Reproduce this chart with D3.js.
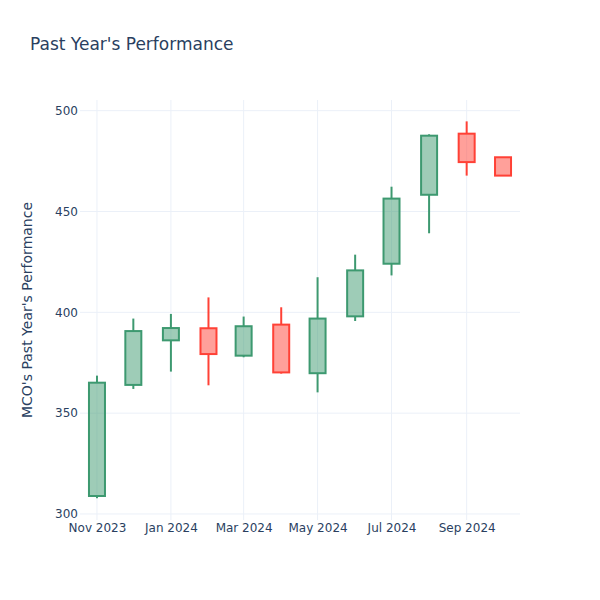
<!DOCTYPE html>
<html>
<head>
<meta charset="utf-8">
<script src="https://cdn.jsdelivr.net/npm/d3@7"></script>
<style>
  body { margin: 0; background: #fff; }
  svg { font-family: "DejaVu Sans", sans-serif; }
</style>
</head>
<body>
<svg id="chart" width="600" height="600"></svg>
<script>
const dates = ["2023-11-01","2023-12-01","2024-01-01","2024-02-01","2024-03-01","2024-04-01","2024-05-01","2024-06-01","2024-07-01","2024-08-01","2024-09-01","2024-10-01"];
const openV  = [308.9, 364.0, 386.1, 392.1, 378.5, 393.9, 369.8, 398.0, 424.1, 458.3, 488.6, 476.9];
const highV  = [368.6, 396.9, 399.2, 407.4, 397.9, 402.5, 417.4, 428.6, 462.3, 488.3, 494.7, 476.9];
const lowV   = [307.8, 362.0, 370.6, 363.8, 377.7, 369.6, 360.3, 395.7, 418.3, 439.2, 467.8, 467.8];
const closeV = [365.1, 390.7, 392.2, 379.3, 393.1, 370.2, 396.9, 420.8, 456.4, 487.6, 474.5, 467.8];
const yTicks = [300, 350, 400, 450, 500];
const xTickDates = ["2023-11-01","2024-01-01","2024-03-01","2024-05-01","2024-07-01","2024-09-01"];

(function () {
const parse = d3.utcParse("%Y-%m-%d");
const data = dates.map((d, i) => ({date: parse(d), o: openV[i], h: highV[i], l: lowV[i], c: closeV[i]}));

const svg = d3.select("#chart");
const pL = 80, pR = 520, pT = 100, pB = 520;
const textColor = "#2a3f5f", gridColor = "#ebf0f8";
const font = "DejaVu Sans, sans-serif";

const x = d3.scaleUtc().domain([parse("2023-10-18"), parse("2024-10-15")]).range([pL, pR]);
const y = d3.scaleLinear().domain([297.0, 505.3]).range([pB, pT]);

// grid
svg.append("g").selectAll("line").data(xTickDates.map(parse)).join("line")
  .attr("x1", d => x(d)).attr("x2", d => x(d)).attr("y1", pT).attr("y2", pB)
  .attr("stroke", gridColor).attr("stroke-width", 1);
svg.append("g").selectAll("line").data(yTicks).join("line")
  .attr("x1", pL).attr("x2", pR).attr("y1", d => y(d)).attr("y2", d => y(d))
  .attr("stroke", gridColor).attr("stroke-width", 1);

// axes
const yAxis = d3.axisLeft(y).tickValues(yTicks).tickSize(0).tickPadding(3);
const gy = svg.append("g").attr("transform", `translate(${pL},0)`).call(yAxis)
  .attr("font-family", font).attr("font-size", 12);
gy.select(".domain").remove();
gy.selectAll("text").attr("fill", textColor).attr("x", -2);

const fmt = d3.utcFormat("%b %Y");
const xAxis = d3.axisBottom(x).tickValues(xTickDates.map(parse)).tickFormat(fmt).tickSize(0).tickPadding(6);
const gx = svg.append("g").attr("transform", `translate(0,${pB})`).call(xAxis)
  .attr("font-family", font).attr("font-size", 12);
gx.select(".domain").remove();
gx.selectAll("text").attr("fill", textColor).attr("dy", "0.71em").attr("y", 3);

// candles
const inc = "#3D9970", dec = "#FF4136";
const bw = 16;
const g = svg.append("g");
data.forEach(d => {
  const up = d.c >= d.o;
  const col = up ? inc : dec;
  const fill = up ? "rgba(61,153,112,0.5)" : "rgba(255,65,54,0.5)";
  const cx = x(d.date);
  const yTop = y(Math.max(d.o, d.c)), yBot = y(Math.min(d.o, d.c));
  g.append("line").attr("x1", cx).attr("x2", cx).attr("y1", y(d.h)).attr("y2", yTop)
    .attr("stroke", col).attr("stroke-width", 2);
  g.append("line").attr("x1", cx).attr("x2", cx).attr("y1", yBot).attr("y2", y(d.l))
    .attr("stroke", col).attr("stroke-width", 2);
  g.append("rect").attr("x", cx - bw / 2).attr("y", yTop).attr("width", bw).attr("height", Math.max(0.5, yBot - yTop))
    .attr("fill", fill).attr("stroke", col).attr("stroke-width", 2);
});

// titles
svg.append("text").attr("x", 30).attr("y", 50).attr("fill", textColor).attr("font-size", 17)
  .text("Past Year's Performance");
svg.append("text").attr("transform", `translate(32,${(pT + pB) / 2}) rotate(-90)`)
  .attr("text-anchor", "middle").attr("fill", textColor).attr("font-size", 14)
  .text("MCO's Past Year's Performance");
})();
</script>
</body>
</html>
